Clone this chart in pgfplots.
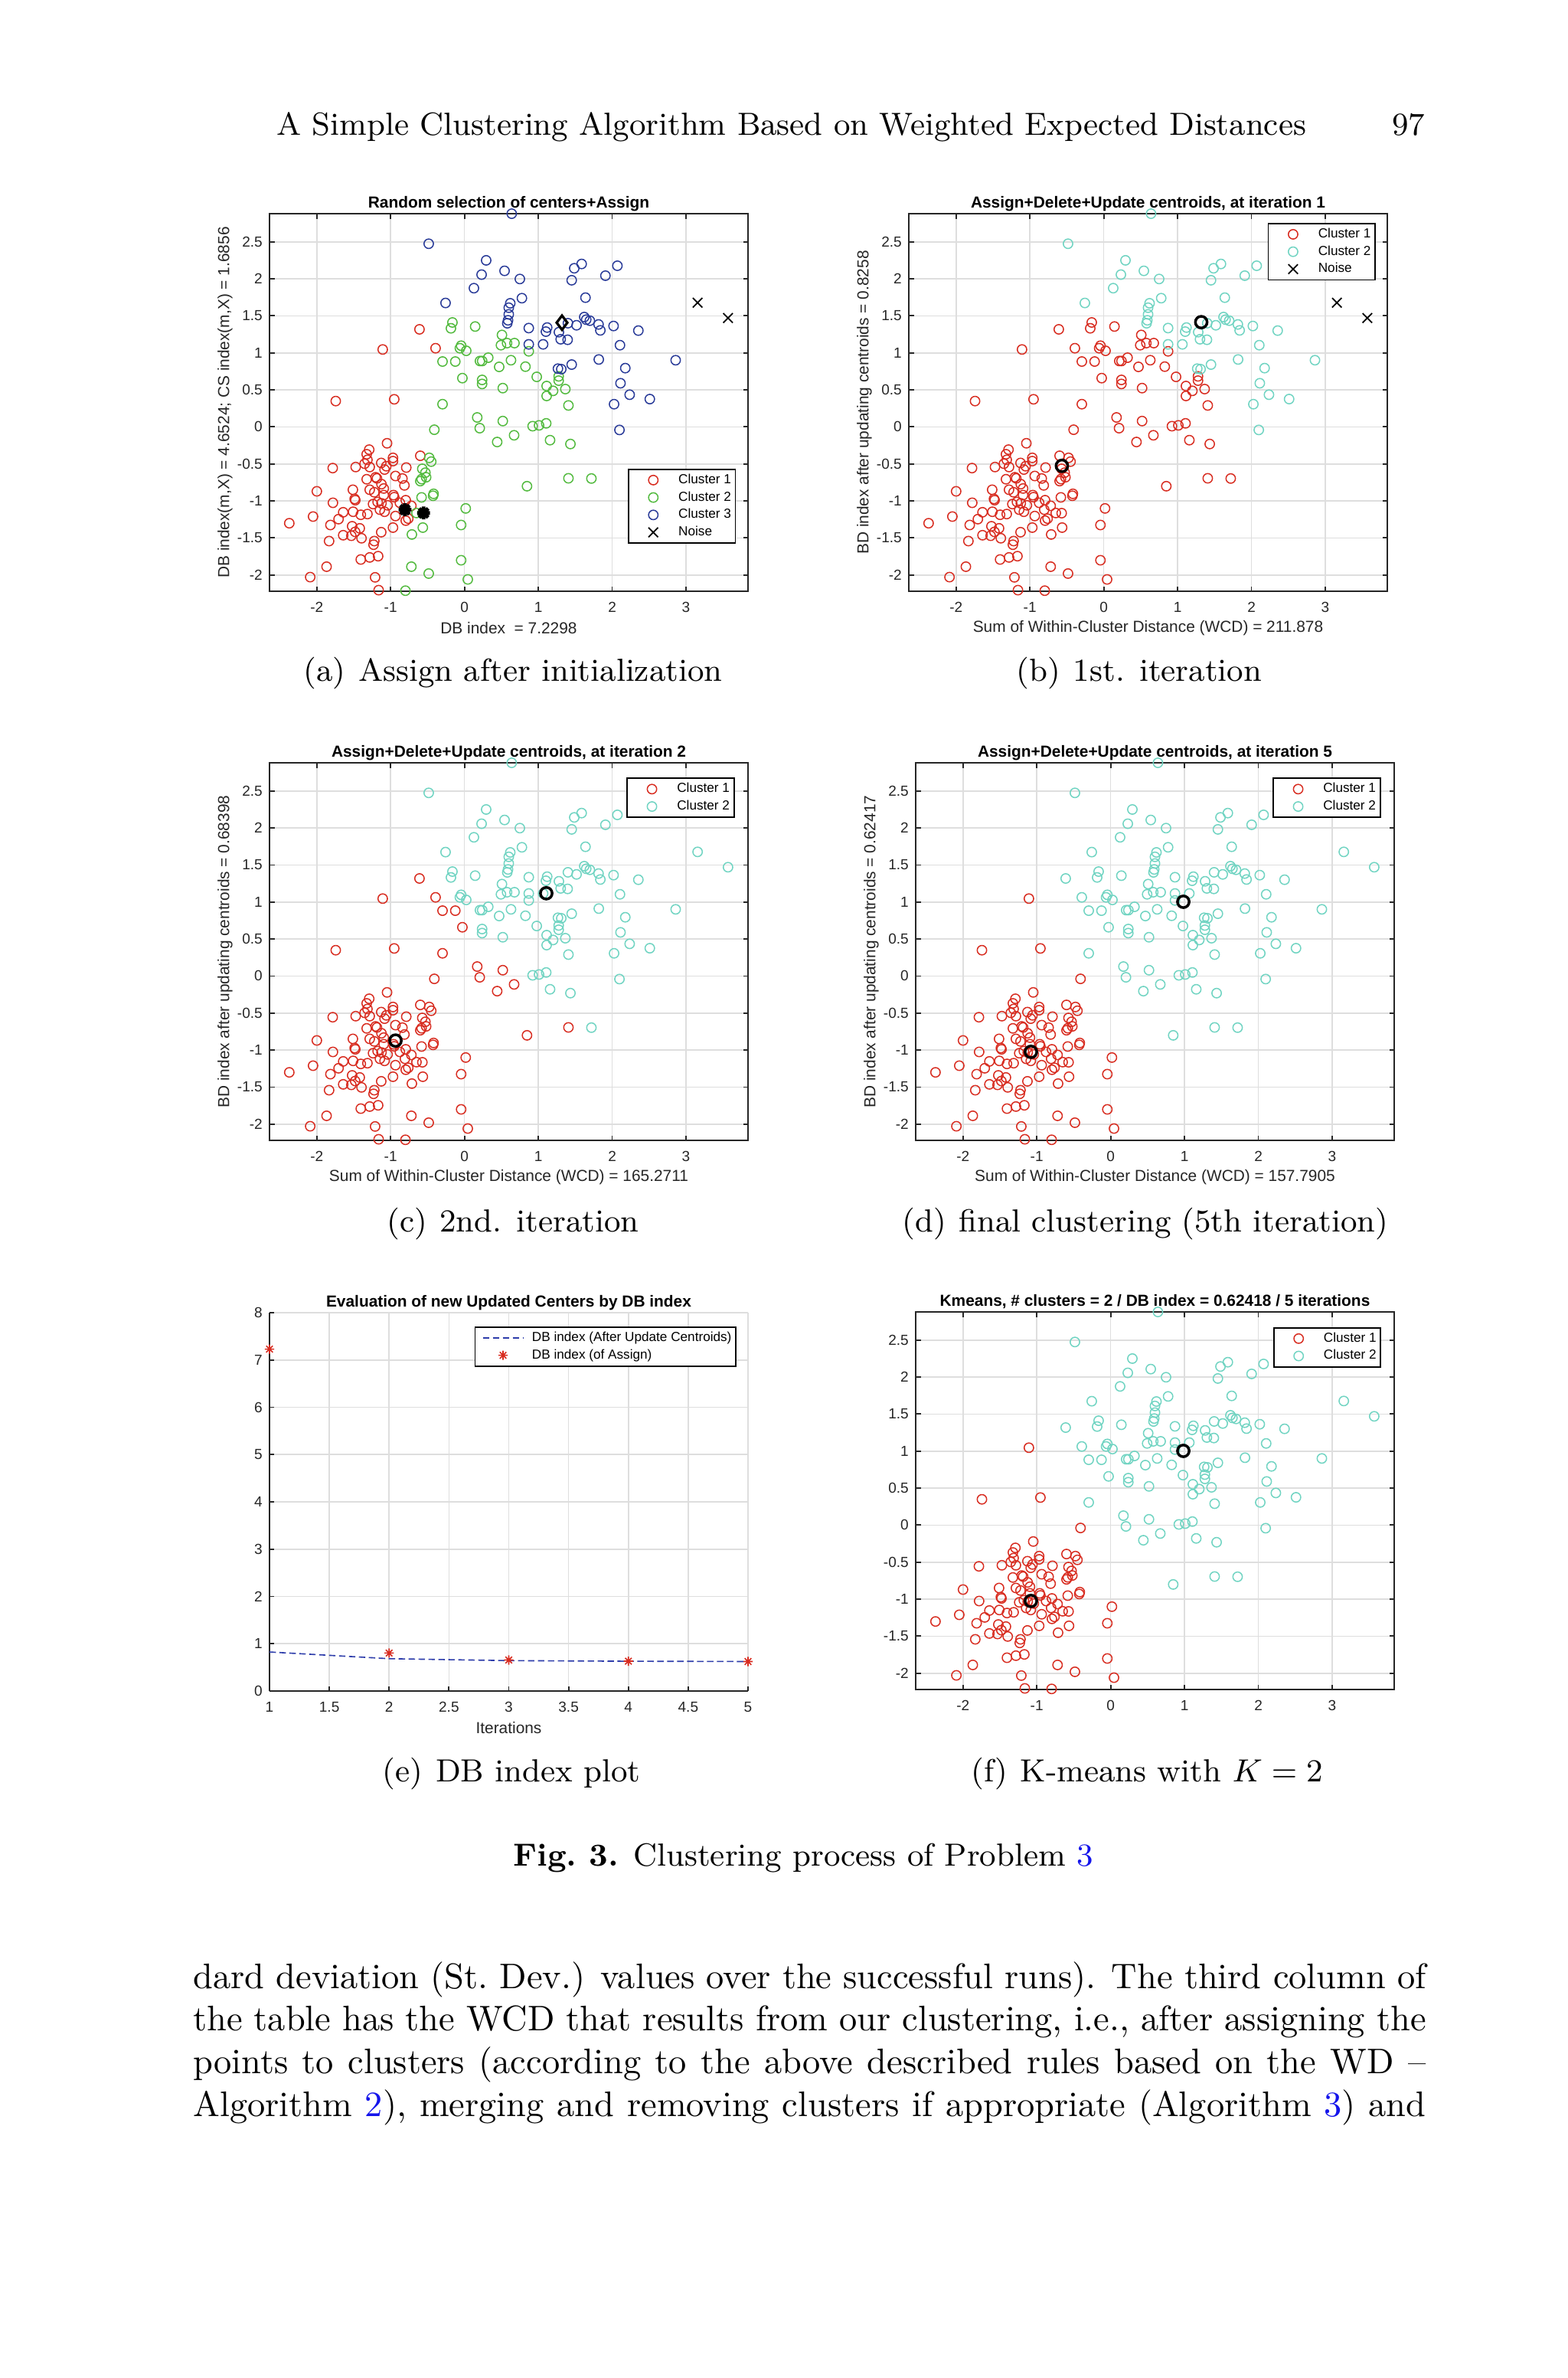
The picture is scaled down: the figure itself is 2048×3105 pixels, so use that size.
\documentclass[border=0pt]{standalone}
\usepackage{fontspec}
\usepackage{pgfplots}
\usepackage{pgfplotstable}
\pgfplotsset{compat=1.18}
\usetikzlibrary{plotmarks}
\newfontfamily\arial{Liberation Sans}
\definecolor{c1}{RGB}{216,44,32}
\definecolor{c2}{RGB}{82,186,62}
\definecolor{c3}{RGB}{40,58,152}
\definecolor{cy}{RGB}{112,212,194}
\definecolor{dbl}{RGB}{45,60,170}
\definecolor{linkblue}{RGB}{20,20,235}
\newcommand\tickfont{\arial\fontsize{4.1}{4.9}\selectfont}
\newcommand\labfont{\arial\fontsize{4.5}{5.4}\selectfont}
\newcommand\titfont{\arial\bfseries\fontsize{4.5}{5.4}\selectfont}
\newcommand\legfont{\arial\fontsize{3.7}{4.4}\selectfont}
\newcommand\subcap[2]{{\fontsize{9}{11}\selectfont(#1)\hspace{3.6pt}#2}}
\pgfdeclareplotmark{mstar}{%
  \pgfpathmoveto{\pgfqpoint{0pt}{\pgfplotmarksize}}\pgfpathlineto{\pgfqpoint{0pt}{-\pgfplotmarksize}}%
  \pgfpathmoveto{\pgfqpoint{\pgfplotmarksize}{0pt}}\pgfpathlineto{\pgfqpoint{-\pgfplotmarksize}{0pt}}%
  \pgfpathmoveto{\pgfqpoint{.7071\pgfplotmarksize}{.7071\pgfplotmarksize}}\pgfpathlineto{\pgfqpoint{-.7071\pgfplotmarksize}{-.7071\pgfplotmarksize}}%
  \pgfpathmoveto{\pgfqpoint{-.7071\pgfplotmarksize}{.7071\pgfplotmarksize}}\pgfpathlineto{\pgfqpoint{.7071\pgfplotmarksize}{-.7071\pgfplotmarksize}}%
  \pgfusepathqstroke}
\pgfplotstableread{
x y a b c d
-0.609 1.318 1 1 1 2
-1.107 1.046 1 1 1 1
-0.391 1.063 1 1 1 2
-1.743 0.349 1 1 1 1
-0.951 0.373 1 1 1 1
-1.048 -0.221 1 1 1 1
-1.290 -0.307 1 1 1 1
-1.324 -0.369 1 1 1 1
-1.314 -0.445 1 1 1 1
-0.598 -0.390 1 1 1 1
-0.968 -0.418 1 1 1 1
-0.968 -0.462 1 1 1 1
-1.784 -0.556 1 1 1 1
-1.473 -0.542 1 1 1 1
-1.352 -0.497 1 1 1 1
-1.283 -0.542 1 1 1 1
-1.127 -0.487 1 1 1 1
-1.058 -0.531 1 1 1 1
-1.082 -0.576 1 1 1 1
-0.788 -0.549 1 1 1 1
-0.934 -0.663 1 1 1 1
-0.840 -0.697 1 1 1 1
-0.813 -0.790 1 1 1 1
-1.324 -0.707 1 1 1 1
-1.203 -0.680 1 1 1 1
-1.185 -0.695 1 1 1 1
-1.124 -0.773 1 1 1 1
-1.093 -0.832 1 1 1 1
-1.283 -0.849 1 1 1 1
-1.221 -0.883 1 1 1 1
-1.511 -0.849 1 1 1 1
-1.487 -0.973 1 1 1 1
-1.478 -0.990 1 1 1 1
-1.093 -0.921 1 1 1 1
-0.961 -0.921 1 1 1 1
-0.951 -0.949 1 1 1 1
-1.999 -0.870 1 1 1 1
-1.781 -1.025 1 1 1 1
-1.238 -1.042 1 1 1 1
-1.176 -1.014 1 1 1 1
-1.124 -1.032 1 1 1 1
-1.041 -1.059 1 1 1 1
-1.145 -1.118 1 1 1 1
-1.082 -1.146 1 1 1 1
-0.875 -1.025 1 1 1 1
-0.795 -0.990 1 1 1 1
-0.719 -1.066 1 1 1 1
-0.806 -1.118 1 1 1 1
-1.642 -1.153 1 1 1 1
-1.508 -1.146 1 1 1 1
-1.404 -1.187 1 1 1 1
-1.314 -1.177 1 1 1 1
-1.705 -1.246 1 1 1 1
-2.050 -1.211 1 1 1 1
-2.372 -1.301 1 1 1 1
-1.815 -1.325 1 1 1 1
-0.934 -1.204 1 1 1 1
-0.795 -1.266 1 1 1 1
-0.761 -1.239 1 1 1 1
-1.521 -1.342 1 1 1 1
-1.418 -1.370 1 1 1 1
-1.480 -1.418 1 1 1 1
-1.532 -1.470 1 1 1 1
-1.642 -1.463 1 1 1 1
-1.394 -1.504 1 1 1 1
-0.968 -1.360 1 1 1 1
-1.127 -1.422 1 1 1 1
-1.833 -1.542 1 1 1 1
-1.221 -1.542 1 1 1 1
-1.231 -1.591 1 1 1 1
-1.404 -1.791 1 1 1 1
-1.283 -1.763 1 1 1 1
-1.169 -1.746 1 1 1 1
-1.867 -1.888 1 1 1 1
-2.089 -2.029 1 1 1 1
-1.210 -2.032 1 1 1 1
-1.162 -2.205 1 1 1 1
-0.163 1.411 2 1 2 2
-0.183 1.332 2 1 2 2
0.145 1.356 2 1 2 2
0.508 1.242 2 1 2 2
0.494 1.104 2 1 2 2
0.577 1.132 2 1 2 2
0.677 1.132 2 1 2 2
-0.045 1.097 2 1 2 2
-0.062 1.063 2 1 2 2
0.024 1.028 2 1 2 2
-0.297 0.883 2 1 1 2
-0.124 0.883 2 1 1 2
0.210 0.890 2 1 2 2
0.240 0.890 2 1 2 2
0.322 0.935 2 1 2 2
0.630 0.901 2 1 2 2
0.470 0.811 2 1 2 2
-0.028 0.659 2 1 1 2
0.239 0.635 2 1 2 2
0.239 0.580 2 1 2 2
0.519 0.524 2 1 2 2
-0.297 0.307 2 1 1 2
0.871 1.021 2 1 2 2
0.826 0.814 2 1 2 2
0.979 0.676 2 1 2 2
1.276 0.683 2 1 2 2
1.276 0.625 2 1 2 2
1.113 0.552 2 1 2 2
1.200 0.487 2 1 2 2
1.366 0.511 2 1 2 2
1.113 0.418 2 1 2 2
1.408 0.290 2 1 2 2
0.173 0.128 2 1 1 2
0.207 -0.017 2 1 1 2
0.519 0.079 2 1 1 2
0.672 -0.113 2 1 1 2
0.443 -0.204 2 1 1 2
-0.408 -0.038 2 1 1 1
-0.477 -0.418 2 1 1 1
-0.450 -0.469 2 1 1 1
-0.571 -0.566 2 1 1 1
-0.529 -0.618 2 1 1 1
-0.519 -0.680 2 1 1 1
-0.598 -0.732 2 1 1 1
-0.580 -0.705 2 1 1 1
-0.581 -0.952 2 1 1 1
-0.418 -0.904 2 1 1 1
-0.425 -0.930 2 1 1 1
-0.650 -1.163 2 1 1 1
-0.570 -1.165 2 1 1 1
-0.564 -1.360 2 1 1 1
-0.712 -1.453 2 1 1 1
0.017 -1.101 2 1 1 1
-0.045 -1.325 2 1 1 1
-0.045 -1.801 2 1 1 1
0.045 -2.060 2 1 1 1
-0.719 -1.888 2 1 1 1
-0.484 -1.981 2 1 1 1
-0.799 -2.212 2 1 1 1
0.923 0.010 2 1 2 2
1.010 0.021 2 1 2 2
1.107 0.048 2 1 2 2
1.159 -0.179 2 1 2 2
1.435 -0.231 2 1 2 2
1.408 -0.694 2 1 1 2
1.719 -0.697 2 1 2 2
0.847 -0.801 2 1 1 2
0.640 2.880 3 2 2 2
-0.484 2.474 3 2 2 2
0.294 2.250 3 2 2 2
0.543 2.108 3 2 2 2
0.232 2.057 3 2 2 2
0.750 1.998 3 2 2 2
0.128 1.874 3 2 2 2
-0.256 1.674 3 2 2 2
0.620 1.670 3 2 2 2
0.600 1.610 3 2 2 2
0.600 1.520 3 2 2 2
0.590 1.440 3 2 2 2
0.580 1.400 3 2 2 2
1.587 2.201 3 2 2 2
1.487 2.143 3 2 2 2
2.071 2.177 3 2 2 2
1.452 1.981 3 2 2 2
1.909 2.043 3 2 2 2
0.778 1.739 3 2 2 2
1.639 1.746 3 2 2 2
0.871 1.335 3 2 2 2
1.120 1.342 3 2 2 2
1.103 1.287 3 2 2 2
1.279 1.280 3 2 2 2
1.401 1.401 3 2 2 2
1.518 1.373 3 2 2 2
1.622 1.484 3 2 2 2
1.649 1.449 3 2 2 2
1.698 1.435 3 2 2 2
1.816 1.384 3 2 2 2
1.840 1.304 3 2 2 2
2.019 1.363 3 2 2 2
2.355 1.301 3 2 2 2
0.871 1.115 3 2 2 2
1.065 1.115 3 2 2 2
1.303 1.184 3 2 2 2
1.397 1.177 3 2 2 2
2.106 1.104 3 2 2 2
1.819 0.911 3 2 2 2
1.452 0.842 3 2 2 2
1.266 0.787 3 2 2 2
1.311 0.780 3 2 2 2
2.178 0.794 3 2 2 2
2.860 0.901 3 2 2 2
2.113 0.590 3 2 2 2
2.237 0.435 3 2 2 2
2.510 0.376 3 2 2 2
2.026 0.307 3 2 2 2
2.099 -0.041 3 2 2 2
3.157 1.677 4 4 2 2
3.569 1.470 4 4 2 2
}\ptab
\pgfplotstableread{
it upd asg
1 0.8258 7.2298
2 0.68398 0.803
3 0.643 0.656
4 0.630 0.631
5 0.62417 0.624
}\dbtab
\pgfplotsset{
  mlab/.style={
    scale only axis, width=134.69pt, height=106.24pt, anchor=south west,
    axis line style={line width=0.45pt, draw=black!85},
    tick style={line width=0.4pt, draw=black!85},
    major tick length=1.4pt, tick align=inside,
    grid=major, major grid style={line width=0.35pt, draw=black!13},
    ticklabel style={font=\tickfont, text=black!85, inner sep=1.3pt},
    /pgf/number format/assume math mode=true,
    xticklabel style={yshift=-1.6pt},
    yticklabel style={xshift=-0.5pt},
    title style={font=\titfont, at={(axis description cs:0.5,1)}, anchor=base, yshift=-4.4pt},
    xlabel style={font=\labfont, text=black!85, at={(axis description cs:0.5,-0.097)}, anchor=center},
    ylabel style={font=\labfont, text=black!85, at={(axis description cs:-0.093,0.5)}, anchor=center},
    clip=false,
    legend cell align=left,
    legend style={font=\legfont, draw=black, line width=0.4pt, fill=white,
      inner xsep=0.7pt, inner ysep=0.6pt, row sep=0pt, column sep=0pt,
      nodes={inner sep=0.5pt, text height=2.9pt, text depth=1.0pt}},
  },
  scat/.style={mlab, xmin=-2.64, xmax=3.84, ymin=-2.22, ymax=2.88,
    xtick={-2,...,3}, ytick={-2,-1.5,...,2.5},
    legend image code/.code={\path (-6.1pt,0pt) (6.4pt,0pt); \draw[##1] plot coordinates {(0pt,0pt)};}},
  legline/.style={legend image code/.code={\path (-1.3pt,0pt) (13.2pt,0pt); \draw[##1] (0pt,0pt) -- (11.4pt,0pt);}},
  legstar/.style={legend image code/.code={\path (-1.3pt,0pt) (13.2pt,0pt); \draw[##1] plot coordinates {(5.7pt,0pt)};}},
  dot/.style={only marks, mark=o, mark size=1.33pt, line width=0.32pt},
  noise/.style={only marks, mark=x, mark size=1.9pt, line width=0.38pt, black},
  cent/.style={only marks, mark=o, mark size=1.65pt, line width=0.75pt, black, forget plot},
}
\begin{document}
\begin{tikzpicture}[x=0.2155pt,y=-0.2155pt]
\fill[white] (0,0) rectangle (2048,3105);
\path[use as bounding box] (0,0) rectangle (2048,3105);
% header
\node[anchor=base east, inner sep=0] at (1707,176) {\small A Simple Clustering Algorithm Based on Weighted Expected Distances};
\node[anchor=base east, inner sep=0] at (1862,176) {\small 97};
% (a)
\begin{axis}[scat, at={(75.856pt,-166.366pt)},
  title={Random selection of centers+Assign},
  xlabel={DB index\ \ = 7.2298},
  ylabel={DB index(m,X) = 4.6524; CS index(m,X) = 1.6856},
  legend style={at={(0.975,0.325)}, anchor=north east}]
\addplot[dot, c1, restrict expr to domain={\thisrow{a}}{0.5:1.5}] table[x=x,y=y]{\ptab};
\addlegendentry{Cluster 1}
\addplot[dot, c2, restrict expr to domain={\thisrow{a}}{1.5:2.5}] table[x=x,y=y]{\ptab};
\addlegendentry{Cluster 2}
\addplot[dot, c3, restrict expr to domain={\thisrow{a}}{2.5:3.5}] table[x=x,y=y]{\ptab};
\addlegendentry{Cluster 3}
\addplot[noise, restrict expr to domain={\thisrow{a}}{3.5:4.5}] table[x=x,y=y]{\ptab};
\addlegendentry{Noise}
\addplot[only marks, mark=diamond, mark size=2pt, line width=0.7pt, black, forget plot] coordinates {(1.321,1.408)};
\addplot[only marks, mark=mstar, mark size=1.8pt, line width=1.05pt, black, forget plot] coordinates {(-0.806,-1.118) (-0.553,-1.163)};
\end{axis}
% (b)
\begin{axis}[scat, at={(255.80pt,-166.366pt)},
  title={Assign+Delete+Update centroids, at iteration 1},
  xlabel={Sum of Within-Cluster Distance (WCD) = 211.878},
  ylabel={BD index after updating centroids = 0.8258},
  legend style={at={(0.976,0.976)}, anchor=north east}]
\addplot[dot, c1, restrict expr to domain={\thisrow{b}}{0.5:1.5}] table[x=x,y=y]{\ptab};
\addlegendentry{Cluster 1}
\addplot[dot, cy, restrict expr to domain={\thisrow{b}}{1.5:2.5}] table[x=x,y=y]{\ptab};
\addlegendentry{Cluster 2}
\addplot[noise, restrict expr to domain={\thisrow{b}}{3.5:4.5}] table[x=x,y=y]{\ptab};
\addlegendentry{Noise}
\addplot[cent] coordinates {(1.32,1.415) (-0.567,-0.526)};
\end{axis}
% (c)
\begin{axis}[scat, at={(75.856pt,-320.88pt)},
  title={Assign+Delete+Update centroids, at iteration 2},
  xlabel={Sum of Within-Cluster Distance (WCD) = 165.2711},
  ylabel={BD index after updating centroids = 0.68398},
  legend style={at={(0.972,0.961)}, anchor=north east}]
\addplot[dot, c1, restrict expr to domain={\thisrow{c}}{0.5:1.5}] table[x=x,y=y]{\ptab};
\addlegendentry{Cluster 1}
\addplot[dot, cy, restrict expr to domain={\thisrow{c}}{1.5:2.5}] table[x=x,y=y]{\ptab};
\addlegendentry{Cluster 2}
\addplot[cent] coordinates {(1.108,1.118) (-0.934,-0.872)};
\end{axis}
% (d)
\begin{axis}[scat, at={(257.74pt,-320.88pt)},
  title={Assign+Delete+Update centroids, at iteration 5},
  xlabel={Sum of Within-Cluster Distance (WCD) = 157.7905},
  ylabel={BD index after updating centroids = 0.62417},
  legend style={at={(0.972,0.961)}, anchor=north east}]
\addplot[dot, c1, restrict expr to domain={\thisrow{d}}{0.5:1.5}] table[x=x,y=y]{\ptab};
\addlegendentry{Cluster 1}
\addplot[dot, cy, restrict expr to domain={\thisrow{d}}{1.5:2.5}] table[x=x,y=y]{\ptab};
\addlegendentry{Cluster 2}
\addplot[cent] coordinates {(0.984,1.003) (-1.08,-1.024)};
\end{axis}
% (e)
\begin{axis}[mlab, at={(75.856pt,-475.82pt)}, height=106.46pt,
  xmin=1, xmax=5, ymin=0, ymax=8,
  xtick={1,1.5,...,5}, ytick={0,...,8},
  axis x line*=bottom, axis y line*=left,
  title={Evaluation of new Updated Centers by DB index},
  xlabel={Iterations},
  legend style={at={(0.976,0.964)}, anchor=north east}]
\addplot[dbl, dash pattern=on 1.8pt off 1pt, line width=0.35pt, legline]
  table[x=it,y=upd]{\dbtab};
\addlegendentry{DB index (After Update Centroids)}
\addplot[only marks, mark=mstar, mark size=1.3pt, line width=0.35pt, c1, legstar]
  table[x=it,y=asg]{\dbtab};
\addlegendentry{DB index (of Assign)}
\end{axis}
% (f)
\begin{axis}[scat, at={(257.74pt,-475.39pt)},
  title={Kmeans, \# clusters = 2 / DB index = 0.62418 / 5 iterations},
  legend style={at={(0.973,0.96)}, anchor=north east}]
\addplot[dot, c1, restrict expr to domain={\thisrow{d}}{0.5:1.5}] table[x=x,y=y]{\ptab};
\addlegendentry{Cluster 1}
\addplot[dot, cy, restrict expr to domain={\thisrow{d}}{1.5:2.5}] table[x=x,y=y]{\ptab};
\addlegendentry{Cluster 2}
\addplot[cent] coordinates {(0.984,1.003) (-1.08,-1.024)};
\end{axis}
% subcaptions
\node[anchor=base, inner sep=0] at (670,889) {\subcap{a}{Assign after initialization}};
\node[anchor=base, inner sep=0] at (1488,889) {\subcap{b}{1st. iteration}};
\node[anchor=base, inner sep=0] at (670,1608) {\subcap{c}{2nd. iteration}};
\node[anchor=base, inner sep=0] at (1496,1608) {\subcap{d}{final clustering (5th iteration)}};
\node[anchor=base, inner sep=0] at (668,2326) {\subcap{e}{DB index plot}};
\node[anchor=base, inner sep=0] at (1498,2326) {\subcap{f}{K-means with $K=2$}};
% caption
\node[anchor=base, inner sep=0] at (1049,2436) {\small\textbf{Fig.~3.} Clustering process of Problem~\textcolor{linkblue}{3}};
% body text
\node[anchor=base west, inner sep=0] at (251.5,2596) {\parbox[t]{347pt}{\tolerance=9999\hbadness=10000\noindent\parfillskip=0pt
dard deviation (St.\ Dev.) values over the successful runs). The third column of\linebreak
the table has the WCD that results from our clustering, i.e.,\ after assigning the\linebreak
points to clusters (according to the above described rules based on the WD --\linebreak
Algorithm~\textcolor{linkblue}{2}), merging and removing clusters if appropriate (Algorithm~\textcolor{linkblue}{3}) and}};
\end{tikzpicture}
\end{document}
